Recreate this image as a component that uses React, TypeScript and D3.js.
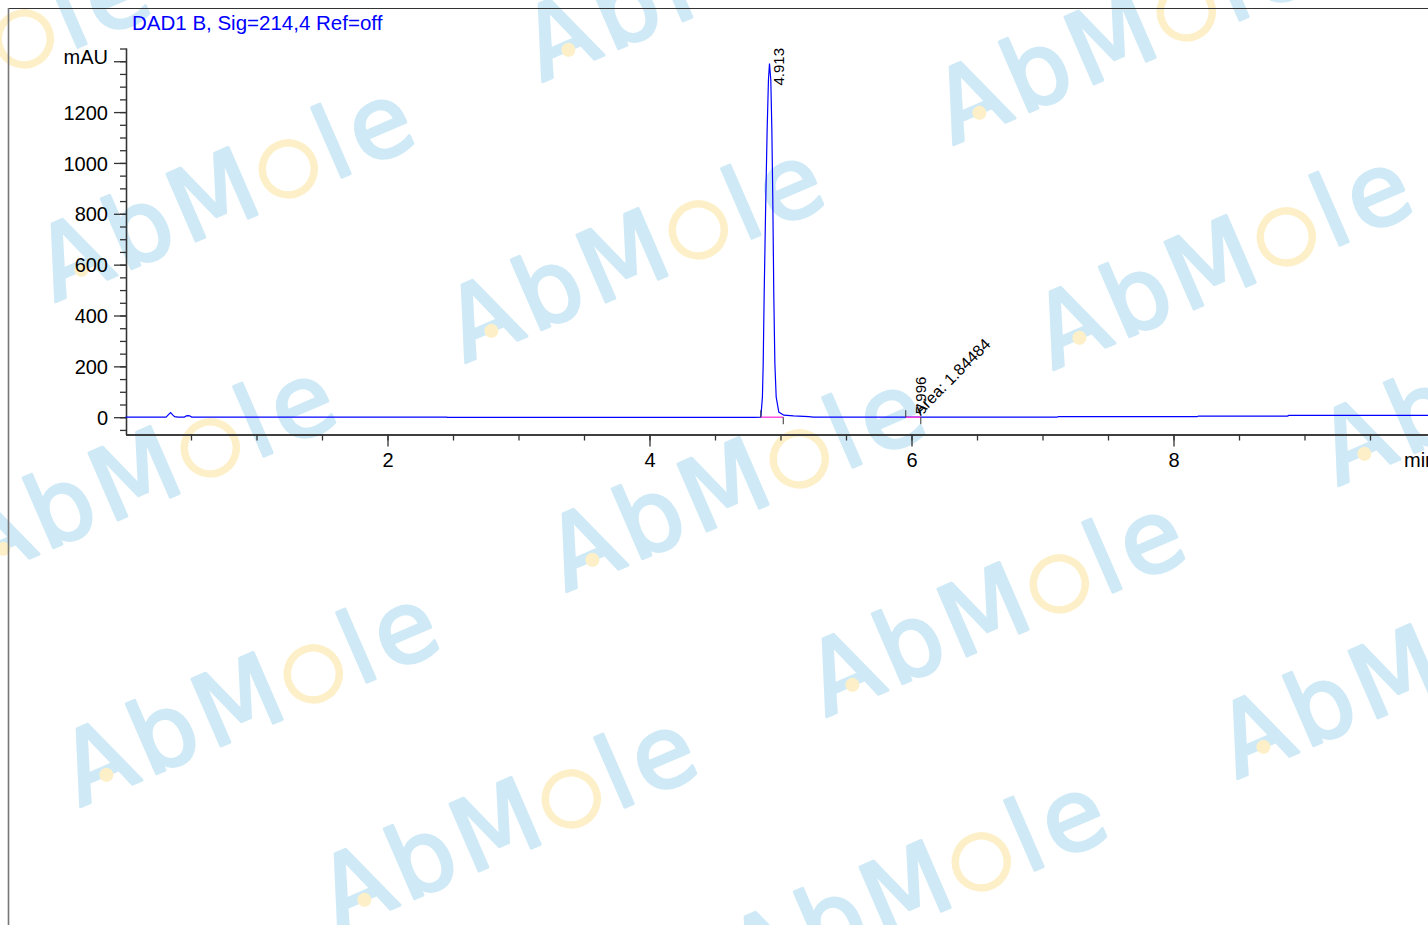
import React, { useEffect, useRef } from "react";
import * as d3 from "d3";

// ---- Data ----
const traceTime = [
  0, 0.31, 0.328, 0.344, 0.36, 0.375, 0.4, 0.45, 0.462, 0.471, 0.49, 0.505,
  2.45, 2.46, 4.8, 4.85, 4.862, 4.868, 4.875, 4.888, 4.898, 4.908, 4.916,
  4.926, 4.934, 4.941, 4.949, 4.957, 4.967, 4.987, 5.025, 5.1, 5.216, 5.25,
  5.95, 5.996, 6.07, 7.11, 7.12, 8.18, 8.19, 8.87, 8.88, 10,
];
const traceValue = [
  0.5, 0.5, 10, 18, 9, 2, 0.5, 0.5, 4.5, 6, 5.5, 0.5,
  0.5, -0.5, -0.5, 0, 80, 211, 473, 867, 1129, 1326, 1391,
  1326, 1129, 867, 473, 211, 80, 20, 8, 5, 2, 0,
  0, 0.6, 0, 0, 2, 2, 4.5, 4.5, 7, 7,
];

const peakLabels = ["4.913", "5.996"];
const peakTimes = [4.913, 5.996];
const peakApex = [1391, 0.6];
const peakStart = [4.85, 5.956];
const peakEnd = [5.021, 6.071];
const areaLabel = "Area: 1.84484";

const xMajorTicks = [2, 4, 6, 8];
const xMinorTicks = d3.range(0.5, 9.6, 0.5);
const yMajorTicks = [0, 200, 400, 600, 800, 1000, 1200, 1400];
const yMinorTicks = d3.range(-50, 1451, 50);

const titleText = "DAD1 B, Sig=214,4 Ref=off";
const xUnit = "min";
const yUnit = "mAU";

// watermark layout (decorative)
const wmAnchors: [number, number][] = [
  [-209, 172], [55, 302], [542, 82], [953, 145], [465, 363], [1053, 370],
  [-23, 581], [566, 592], [1338, 486], [80, 807], [826, 717], [1237, 779],
  [338, 932], [748, 995],
];

const W = 1428;
const H = 925;
const FONT = "'Liberation Sans', Arial, Helvetica, sans-serif";
const WM_BLUE = "#cfeaf6";
const WM_YELLOW = "#fdf0c9";

export default function App() {
  const xAxisRef = useRef<SVGGElement>(null);
  const yAxisRef = useRef<SVGGElement>(null);

  const x = d3.scaleLinear().domain([0, 10]).range([125.5, 1435.5]);
  const y = d3.scaleLinear().domain([-68, 1452]).range([434.5, 48]);

  useEffect(() => {
    const gx = d3.select(xAxisRef.current);
    gx.selectAll("*").remove();
    gx.append("g").call(
      d3.axisBottom(x).tickValues(xMinorTicks).tickSize(6).tickSizeOuter(0).tickFormat(() => "")
    );
    gx.append("g").call(
      d3.axisBottom(x).tickValues(xMajorTicks).tickSize(12).tickSizeOuter(0).tickPadding(6)
        .tickFormat((d) => String(d))
    );
    gx.selectAll("path.domain").attr("stroke", "#333").attr("stroke-width", 1.3);
    gx.selectAll(".tick line").attr("stroke", "#333").attr("stroke-width", 1.3);
    gx.selectAll("g").attr("font-family", FONT).attr("font-size", 20);
    gx.selectAll(".tick text").attr("fill", "#000");

    const gy = d3.select(yAxisRef.current);
    gy.selectAll("*").remove();
    gy.append("g").call(
      d3.axisLeft(y).tickValues(yMinorTicks).tickSize(6).tickSizeOuter(0).tickFormat(() => "")
    );
    gy.append("g").call(
      d3.axisLeft(y).tickValues(yMajorTicks).tickSize(12).tickSizeOuter(0).tickPadding(6)
        .tickFormat((d) => ((d as number) === 1400 ? yUnit : String(d)))
    );
    gy.selectAll("path.domain").attr("stroke", "#333").attr("stroke-width", 1.3);
    gy.selectAll(".tick line").attr("stroke", "#333").attr("stroke-width", 1.3);
    gy.selectAll("g").attr("font-family", FONT).attr("font-size", 20);
    gy.selectAll(".tick text").attr("fill", "#000").attr("dy", "0.36em");
    gy.selectAll<SVGTextElement, number>(".tick text")
      .filter((d) => d === 1400)
      .attr("dy", "0.1em");
  }, []);

  const line = d3
    .line<number>()
    .x((_, i) => x(traceTime[i]))
    .y((_, i) => y(traceValue[i]));

  const base = y(0);

  return (
    <svg
      width={W}
      height={H}
      style={{ position: "absolute", left: 0, top: 0, background: "#fff" }}
    >
      {/* watermark */}
      <g fontFamily="'DejaVu Sans', sans-serif" fontSize={100} letterSpacing={6}>
        {wmAnchors.map(([ax, ay], i) => (
          <g key={i} transform={`translate(${ax},${ay}) rotate(-23.5)`}>
            <text
              x={0}
              y={0}
              fill={WM_BLUE}
              stroke={WM_BLUE}
              strokeWidth={3}
              strokeLinejoin="round"
            >
              <tspan>AbM</tspan>
              <tspan fill="none" stroke="none">o</tspan>
              <tspan>le</tspan>
            </text>
            <circle cx={267} cy={-29} r={26} fill="none" stroke={WM_YELLOW} strokeWidth={7.5} />
            <circle cx={37} cy={-19} r={7} fill={WM_YELLOW} />
          </g>
        ))}
      </g>

      {/* frame */}
      <line x1={8} y1={8.5} x2={W} y2={8.5} stroke="#333" strokeWidth={1.2} />
      <line x1={8.5} y1={8} x2={8.5} y2={H} stroke="#777" strokeWidth={1.6} />

      {/* title */}
      <text x={132} y={29.5} fontFamily={FONT} fontSize={20.5} fill="#0000ff">
        {titleText}
      </text>

      {/* axes */}
      <g ref={xAxisRef} transform={`translate(0,${y(-68)})`} />
      <g ref={yAxisRef} transform={`translate(${x(0) + 0.5},0)`} />
      <text x={1404} y={467} fontFamily={FONT} fontSize={20} fill="#000">
        {xUnit}
      </text>

      {/* trace */}
      <path d={line(traceTime) || ""} fill="none" stroke="#0000ff" strokeWidth={1.2} />

      {/* integration baselines */}
      {peakStart.map((s, i) => (
        <g key={i}>
          <line x1={x(s)} y1={base} x2={x(peakEnd[i])} y2={base} stroke="#ff44dd" strokeWidth={1.4} />
          <line x1={x(s)} y1={base} x2={x(s)} y2={base - 7} stroke="#333" strokeWidth={1} />
          <line x1={x(peakEnd[i])} y1={base} x2={x(peakEnd[i])} y2={base + 7} stroke="#333" strokeWidth={1} />
        </g>
      ))}

      {/* peak labels */}
      {peakLabels.map((lab, i) => {
        const px = x(peakTimes[i]) + 15;
        const py = i === 0 ? y(peakApex[i]) + 22 : base - 3;
        return (
          <text
            key={lab}
            transform={`translate(${px},${py}) rotate(-90)`}
            fontFamily={FONT}
            fontSize={15}
            fill="#000"
          >
            {lab}
          </text>
        );
      })}
      <text
        transform={`translate(${x(peakTimes[1]) + 9.5},${base - 1}) rotate(-45)`}
        fontFamily={FONT}
        fontSize={16}
        fill="#000"
      >
        {areaLabel}
      </text>
    </svg>
  );
}
